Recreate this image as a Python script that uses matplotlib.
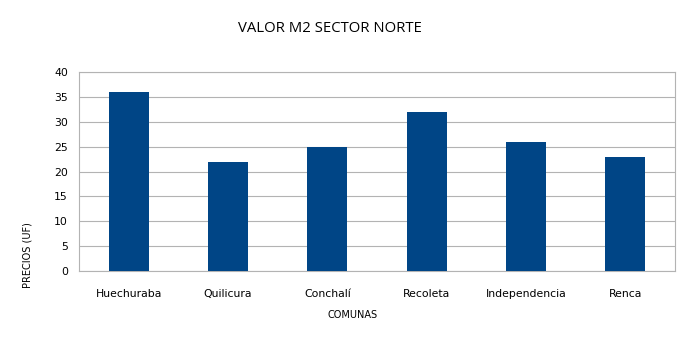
import matplotlib.pyplot as plt
import numpy as np

comunas = ["Huechuraba", "Quilicura", "Conchalí", "Recoleta", "Independencia", "Renca"]
precios = [36, 22, 25, 32, 26, 23]

fig = plt.figure(figsize=(7.0, 3.48), dpi=100)
ax = fig.add_axes([79/700, 1 - 271/348, (675 - 79)/700, (271 - 72)/348])

x = np.arange(len(comunas))
ax.bar(x, precios, width=0.4, color="#004586", zorder=3)

ax.set_xlim(-0.5, len(comunas) - 0.5)
ax.set_ylim(0, 40)
ax.set_yticks(range(0, 41, 5))
ax.set_xticks(x)
ax.set_xticklabels(comunas)
ax.tick_params(axis="both", length=0, labelsize=7.8, colors="black")
ax.tick_params(axis="x", pad=13)
ax.tick_params(axis="y", pad=8)
ax.grid(axis="y", color="#b3b3b3", linewidth=0.8, zorder=0)
for s in ax.spines.values():
    s.set_color("#b3b3b3")
    s.set_linewidth(0.8)

fig.text(330/700, 1 - 28/348, "VALOR M2 SECTOR NORTE", ha="center", va="center",
         fontsize=10.7, family="Open Sans")
fig.text(353/700, 1 - 315/348, "COMUNAS", ha="center", va="center", fontsize=7)
fig.text(27/700, 1 - 255/348, "PRECIOS (UF)", ha="center", va="center",
         rotation=90, fontsize=7)

fig.savefig("out.png", dpi=100)
